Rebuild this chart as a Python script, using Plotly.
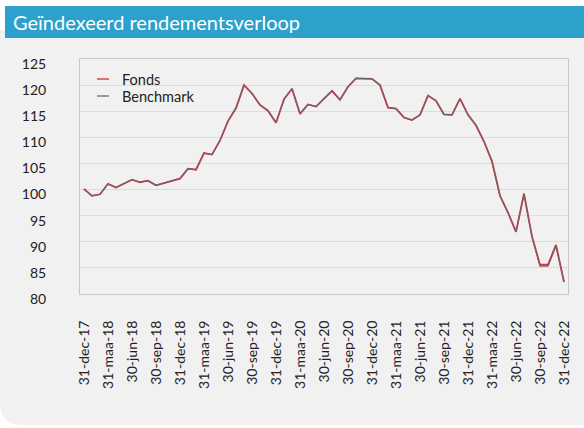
import plotly.graph_objects as go

# month-end index 0 = 31-dec-17 ... 60 = 31-dec-22
months = list(range(61))

fonds = [
    100.1, 98.8, 99.1, 101.1, 100.4, 101.1, 101.9, 101.4, 101.7, 100.8,
    101.2, 101.7, 102.1, 104.0, 103.8, 107.0, 106.7, 109.4, 113.1, 115.6,
    120.0, 118.4, 116.2, 115.1, 112.8, 117.3, 119.3, 114.5, 116.3, 115.9,
    117.4, 118.9, 117.2, 119.7, 121.3, 121.2, 121.2, 120.0, 115.7, 115.5,
    113.8, 113.3, 114.3, 118.0, 117.0, 114.4, 114.3, 117.4, 114.3, 112.3,
    109.2, 105.4, 98.8, 95.6, 91.9, 99.2, 91.0, 85.6, 85.6, 89.4,
    82.3,
]
benchmark = [
    100.1, 98.8, 99.1, 101.1, 100.4, 101.1, 101.9, 101.4, 101.7, 100.8,
    101.2, 101.7, 102.1, 104.0, 103.8, 107.0, 106.7, 109.4, 113.1, 115.6,
    120.0, 118.4, 116.2, 115.1, 112.8, 117.3, 119.3, 114.5, 116.3, 115.9,
    117.4, 118.9, 117.2, 119.7, 121.3, 121.2, 121.2, 120.0, 115.7, 115.5,
    113.8, 113.3, 114.3, 118.0, 117.0, 114.4, 114.3, 117.4, 114.3, 112.3,
    109.2, 105.4, 98.8, 95.6, 91.9, 99.2, 91.0, 85.3, 85.3, 89.2,
    82.3,
]

tick_pos = list(range(0, 61, 3))
tick_text = [
    "31-dec-17", "31-maa-18", "30-jun-18", "30-sep-18", "31-dec-18",
    "31-maa-19", "30-jun-19", "30-sep-19", "31-dec-19", "31-maa-20",
    "30-jun-20", "30-sep-20", "31-dec-20", "31-maa-21", "30-jun-21",
    "30-sep-21", "31-dec-21", "31-maa-22", "30-jun-22", "30-sep-22",
    "31-dec-22",
]
y_ticks = [80, 85, 90, 95, 100, 105, 110, 115, 120, 125]

TITLE = "Geïndexeerd rendementsverloop"
BAR_BLUE = "#2ba1cc"
FONDS_RED = "#e0283c"
BENCH_GRAY = "#6a6a6a"
FONT = "Lato"

# plot box: x 80..568, y 59..294 (pixels)
L, R, T, B = 80, 16, 59, 134
PW, PH = 584 - L - R, 428 - T - B


def px(x):
    return (x - L) / PW


def py(y):
    return (T + PH - y) / PH


fig = go.Figure()
fig.add_trace(go.Scatter(
    x=months, y=fonds, mode="lines", name="Fonds",
    line=dict(color=FONDS_RED, width=1.8), showlegend=False,
))
fig.add_trace(go.Scatter(
    x=months, y=benchmark, mode="lines", name="Benchmark",
    line=dict(color=BENCH_GRAY, width=1.1), showlegend=False,
))

# grey panel with rounded lower-left corner, and the blue title bar
x0, x1, y0, y1, rad = px(0), px(584), py(425), py(30), 22
fig.add_shape(
    type="path", xref="paper", yref="paper", layer="below",
    path=(f"M {x0},{y1} L {x1},{y1} L {x1},{y0} L {px(rad)},{y0} "
          f"Q {x0},{y0} {x0},{py(425 - rad)} Z"),
    fillcolor="#f1f1f1", line=dict(width=0),
)
fig.add_shape(
    type="rect", xref="paper", yref="paper", layer="below",
    x0=px(5), x1=px(584), y0=py(38), y1=py(6),
    fillcolor=BAR_BLUE, line=dict(width=0),
)
fig.add_annotation(
    text=TITLE, xref="paper", yref="paper", x=px(11), y=py(22),
    xanchor="left", yanchor="middle", showarrow=False,
    font=dict(family=FONT, size=20, color="white"),
)

# compact legend drawn by hand: short line samples with labels
legend_items = [("Fonds", FONDS_RED, 79), ("Benchmark", BENCH_GRAY, 96)]
for label, color, ypix in legend_items:
    fig.add_shape(
        type="line", xref="paper", yref="paper",
        x0=px(97), x1=px(109), y0=py(ypix), y1=py(ypix),
        line=dict(color=color, width=1.3),
    )
    fig.add_annotation(
        text=label, xref="paper", yref="paper", x=px(121), y=py(ypix),
        xanchor="left", yanchor="middle", showarrow=False,
        font=dict(family=FONT, size=14.5, color="#222222"),
        height=16, borderpad=0,
    )

fig.update_layout(
    width=584, height=428,
    margin=dict(l=L, r=R, t=T, b=B),
    paper_bgcolor="white",
    plot_bgcolor="#efefef",
    font=dict(family=FONT, color="#222222"),
    showlegend=False,
    xaxis=dict(
        range=[-0.5, 60.5], tickmode="array", tickvals=tick_pos, ticktext=tick_text,
        tickangle=-90, tickfont=dict(size=14), showgrid=False, zeroline=False,
        showline=True, linecolor="#c8c8c8", mirror=True, ticks="", ticklen=0,
        ticklabelstandoff=20,
    ),
    yaxis=dict(
        range=[80, 125], tickvals=y_ticks, tickfont=dict(size=14),
        showgrid=True, gridcolor="#dcdcdc", gridwidth=1, zeroline=False,
        showline=True, linecolor="#c8c8c8", mirror=True, ticks="",
        ticklabelstandoff=30, ticklabelshift=5,
    ),
)

fig.write_html(
    "out.html",
    config={"displayModeBar": False},
    post_script="document.body.style.margin='0';",
)
